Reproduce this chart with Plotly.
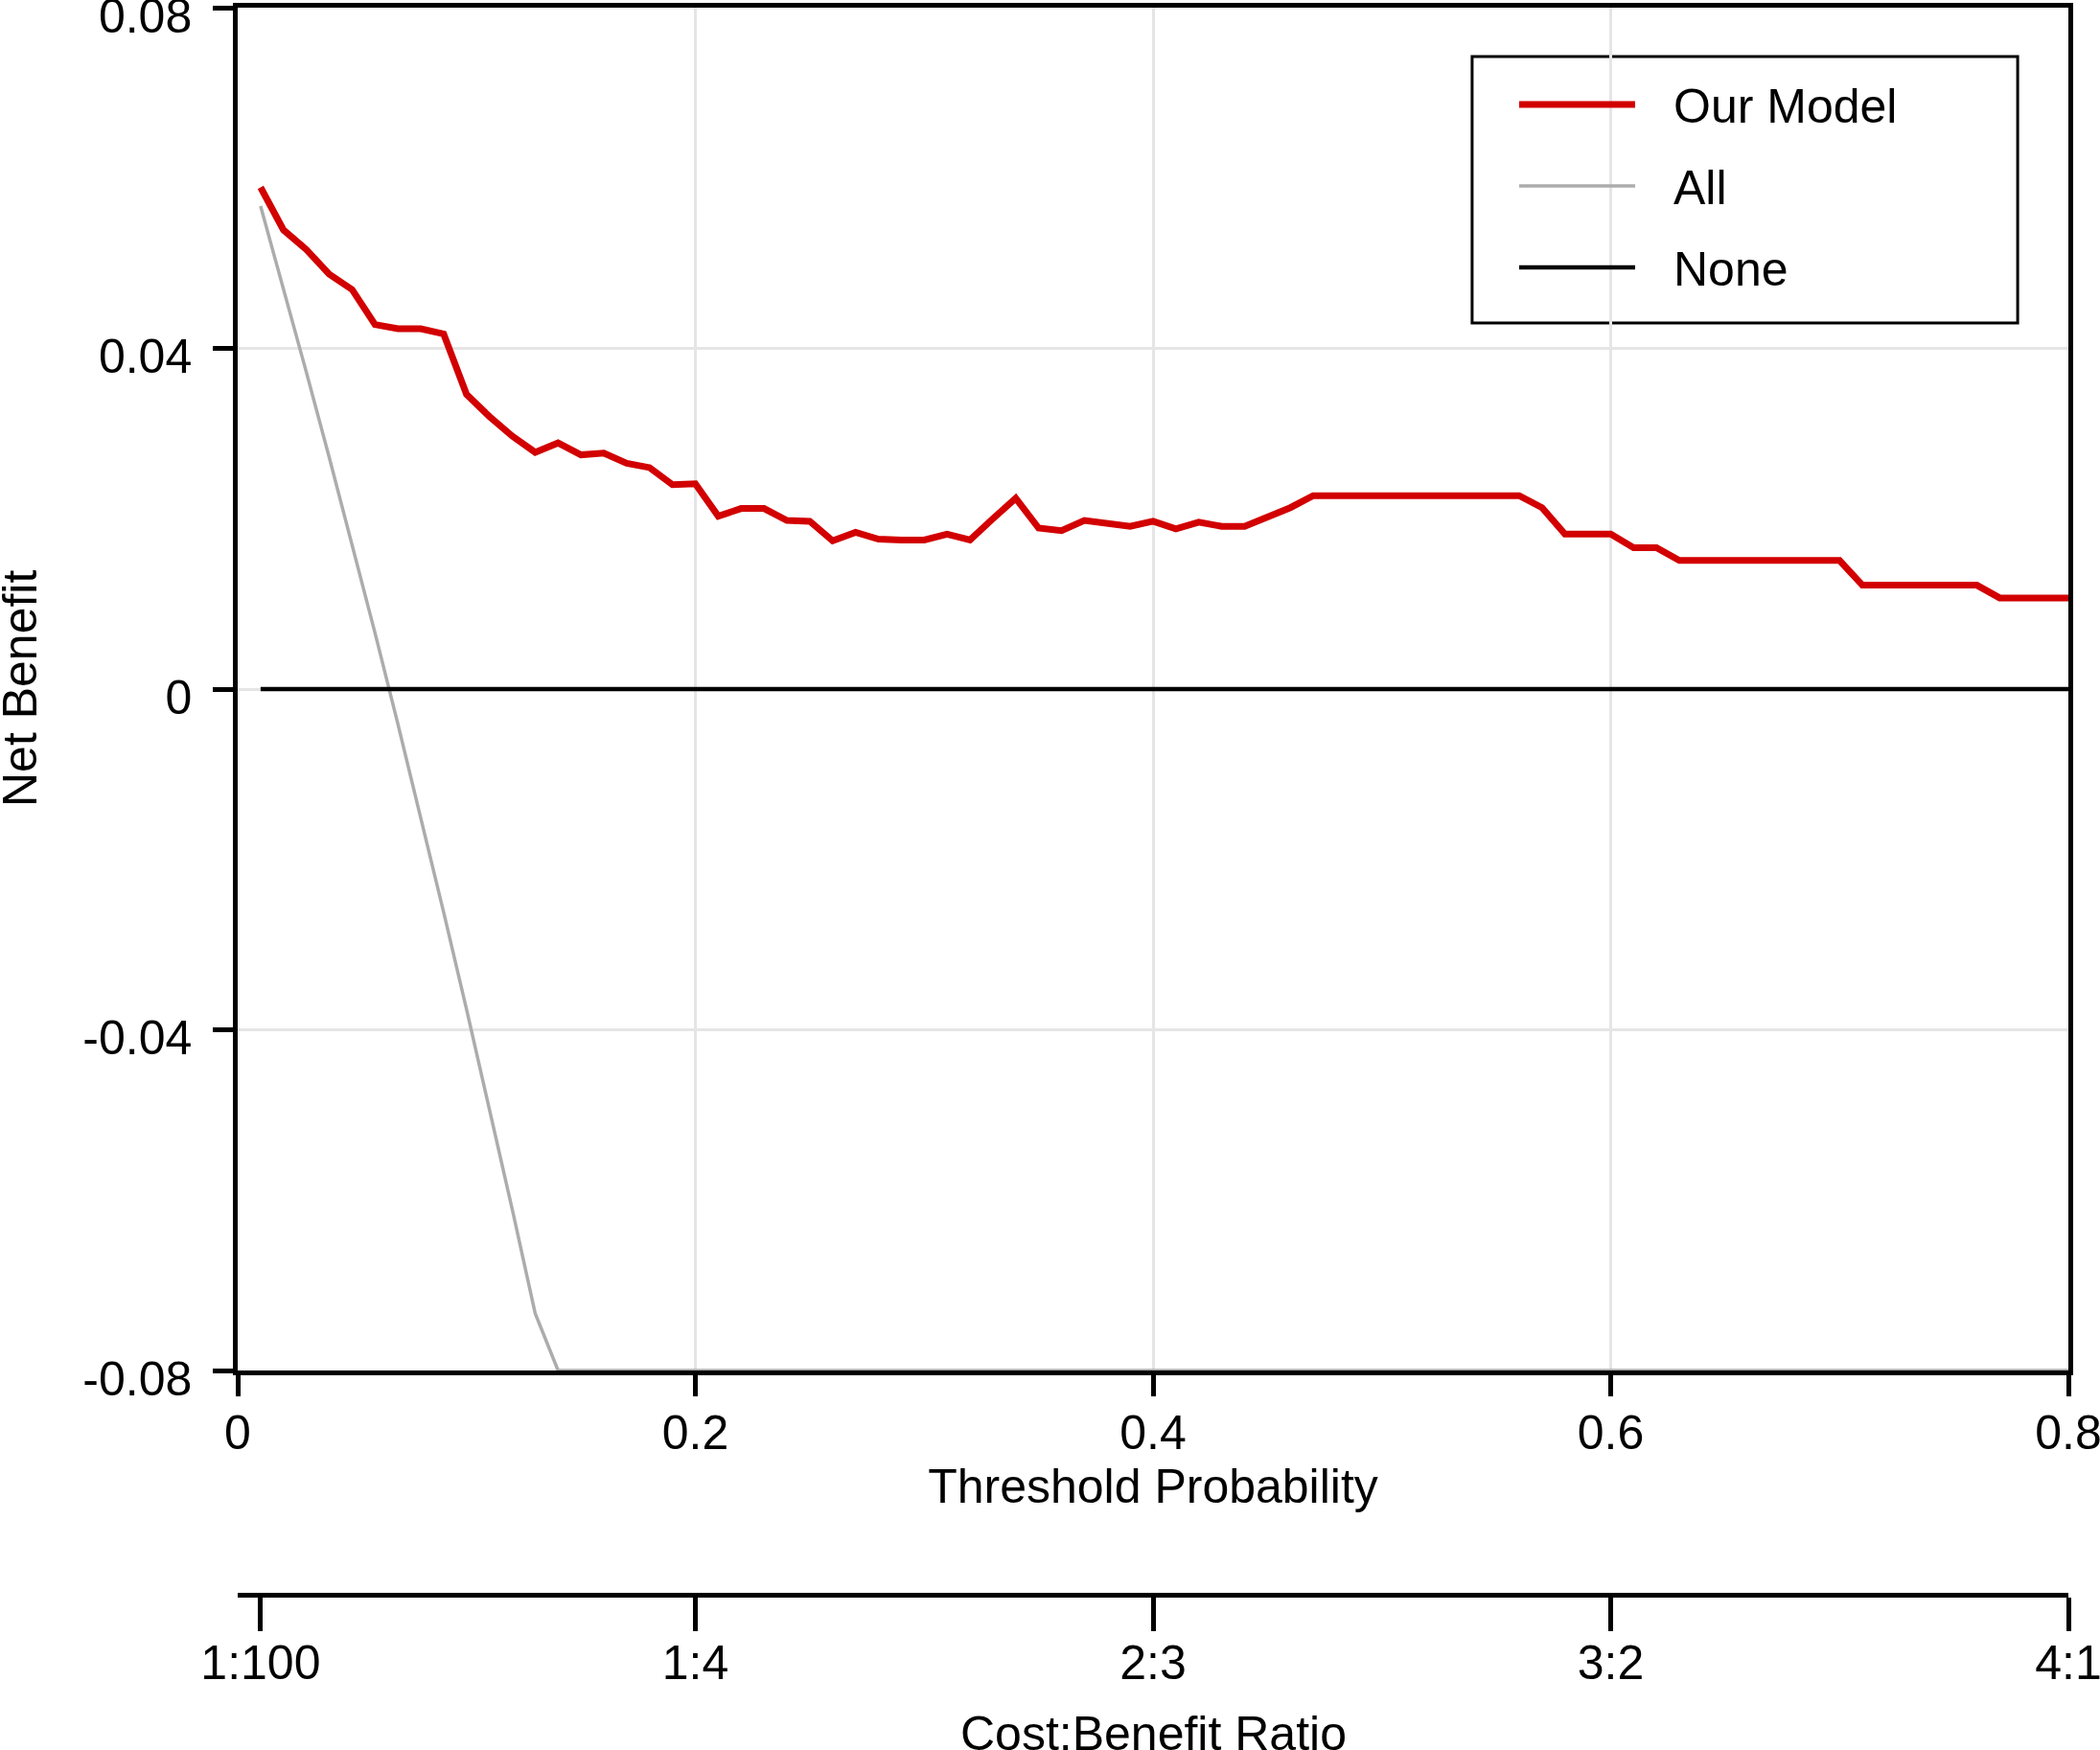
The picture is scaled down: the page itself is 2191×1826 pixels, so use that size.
import plotly.graph_objects as go

# threshold probabilities (x) and net benefit readings
thresholds = [0.01, 0.02, 0.03, 0.04, 0.05, 0.06, 0.07, 0.08, 0.09, 0.10,
              0.11, 0.12, 0.13, 0.14, 0.15, 0.16, 0.17, 0.18, 0.19, 0.20,
              0.21, 0.22, 0.23, 0.24, 0.25, 0.26, 0.27, 0.28, 0.29, 0.30,
              0.31, 0.32, 0.33, 0.34, 0.35, 0.36, 0.37, 0.38, 0.39, 0.40,
              0.41, 0.42, 0.43, 0.44, 0.45, 0.46, 0.47, 0.48, 0.49, 0.50,
              0.51, 0.52, 0.53, 0.54, 0.55, 0.56, 0.57, 0.58, 0.59, 0.60,
              0.61, 0.62, 0.63, 0.64, 0.65, 0.66, 0.67, 0.68, 0.69, 0.70,
              0.71, 0.72, 0.73, 0.74, 0.75, 0.76, 0.77, 0.78, 0.79, 0.80]

model_nb = [0.0589, 0.0539, 0.0516, 0.0487, 0.0469, 0.0428, 0.0423, 0.0423, 0.0417, 0.0346,
            0.0320, 0.0297, 0.0278, 0.0289, 0.0275, 0.0277, 0.0265, 0.0260, 0.0240, 0.0241,
            0.0203, 0.0212, 0.0212, 0.0198, 0.0197, 0.0174, 0.0184, 0.0176, 0.0175, 0.0175,
            0.0182, 0.0175, 0.0200, 0.0224, 0.0189, 0.0186, 0.0198, 0.0194, 0.0191, 0.0197,
            0.0188, 0.0196, 0.0191, 0.0191, 0.0202, 0.0213, 0.0227, 0.0227, 0.0227, 0.0227,
            0.0227, 0.0227, 0.0227, 0.0227, 0.0227, 0.0227, 0.0213, 0.0182, 0.0182, 0.0182,
            0.0166, 0.0166, 0.0151, 0.0151, 0.0151, 0.0151, 0.0151, 0.0151, 0.0151, 0.0151,
            0.0122, 0.0122, 0.0122, 0.0122, 0.0122, 0.0122, 0.0107, 0.0107, 0.0107, 0.0107]

# treat-all curve, clipped at the bottom of the plot
all_x = [0.01, 0.02, 0.03, 0.04, 0.05, 0.06, 0.07, 0.08, 0.09, 0.10, 0.11, 0.12, 0.13, 0.14, 0.80]
all_nb = [0.0567, 0.0470, 0.0372, 0.0272, 0.0170, 0.0066, -0.0041, -0.0150, -0.0262, -0.0376,
          -0.0492, -0.0611, -0.0733, -0.0800, -0.0800]

none_x = [0.01, 0.80]
none_nb = [0, 0]

# y axis and the two x axes
y_ticks = [-0.08, -0.04, 0, 0.04, 0.08]
y_labels = ['-0.08', '-0.04', '0', '0.04', '0.08']
x_ticks = [0, 0.2, 0.4, 0.6, 0.8]
x_labels = ['0', '0.2', '0.4', '0.6', '0.8']
ratio_ticks = [0.01, 0.2, 0.4, 0.6, 0.8]
ratio_labels = ['1:100', '1:4', '2:3', '3:2', '4:1']

FONT = 'Liberation Sans, Arial, sans-serif'
GAP = '\u2002\u2009'  # space between legend line sample and its label

fig = go.Figure()
fig.add_trace(go.Scatter(x=thresholds, y=model_nb, mode='lines', name=GAP + 'Our Model',
                         line=dict(color='#D20000', width=7), legendgroup='a'))
fig.add_trace(go.Scatter(x=all_x, y=all_nb, mode='lines', name=GAP + 'All',
                         line=dict(color='#ACACAC', width=3.5), legendgroup='b',
                         cliponaxis=False))
fig.add_trace(go.Scatter(x=none_x, y=none_nb, mode='lines', name=GAP + 'None',
                         line=dict(color='black', width=4.5), legendgroup='c'))
# invisible trace so the cost:benefit axis gets drawn
fig.add_trace(go.Scatter(x=[0.01, 0.8], y=[0, 0], xaxis='x2', mode='lines',
                         line=dict(width=0), showlegend=False, hoverinfo='skip'))

axis_common = dict(showline=True, linecolor='black', linewidth=4.5, ticks='outside',
                   tickwidth=4.5, tickcolor='black', zeroline=False, automargin=False,
                   ticklabeloverflow='allow', layer='below traces',
                   tickfont=dict(size=50, color='black', family=FONT))

fig.update_layout(
    width=2191, height=1826,
    margin=dict(l=248, r=33, t=8, b=162, pad=0),
    paper_bgcolor='white', plot_bgcolor='white',
    font=dict(family=FONT, size=50, color='black'),
    xaxis=dict(range=[0, 0.8], tickvals=x_ticks, ticktext=x_labels, ticklen=22,
               mirror=True, showgrid=True, gridcolor='#E5E5E5', gridwidth=3,
               ticklabelstandoff=-5, anchor='y',
               title=dict(text='Threshold Probability', standoff=2,
                          font=dict(size=50, family=FONT)),
               **axis_common),
    yaxis=dict(range=[-0.08, 0.08], domain=[0.1413, 1], tickvals=y_ticks, ticktext=y_labels,
               ticklen=21, mirror=True, showgrid=True, gridcolor='#E5E5E5', gridwidth=3,
               ticklabelstandoff=12, ticklabelshift=8, **axis_common),
    xaxis2=dict(range=[0, 0.8], overlaying='x', anchor='free', position=0, side='bottom',
                tickvals=ratio_ticks, ticktext=ratio_labels, ticklen=35, showgrid=False,
                ticklabelstandoff=-10, **axis_common),
    legend=dict(x=0.6958, y=0.9644, xanchor='left', yanchor='top',
                bordercolor='rgba(0,0,0,0)', borderwidth=3, bgcolor='rgba(0,0,0,0)',
                font=dict(size=50, family=FONT), itemwidth=121, tracegroupgap=17),
    showlegend=True,
    # frame around the legend
    shapes=[dict(type='rect', xref='paper', yref='paper', x0=0.6743, x1=0.9723,
                 y0=0.8013, y1=0.9692, line=dict(color='black', width=3),
                 fillcolor='white', layer='below')],
    annotations=[
        # y title, close to the left edge as in the original
        dict(text='Net Benefit', xref='paper', yref='y domain', x=0, y=0.5,
             xanchor='center', yanchor='middle', xshift=-227, textangle=-90,
             showarrow=False, font=dict(size=50, family=FONT, color='black')),
        # title of the cost:benefit axis, partly below the bottom edge as in the original
        dict(text='Cost:Benefit Ratio', xref='paper', yref='paper', x=0.5, y=0,
             xanchor='center', yanchor='middle', yshift=-145, showarrow=False,
             font=dict(size=50, family=FONT, color='black')),
    ],
)

fig.write_html('out.html', config={'displayModeBar': False},
               post_script="document.body.style.margin='0';")
